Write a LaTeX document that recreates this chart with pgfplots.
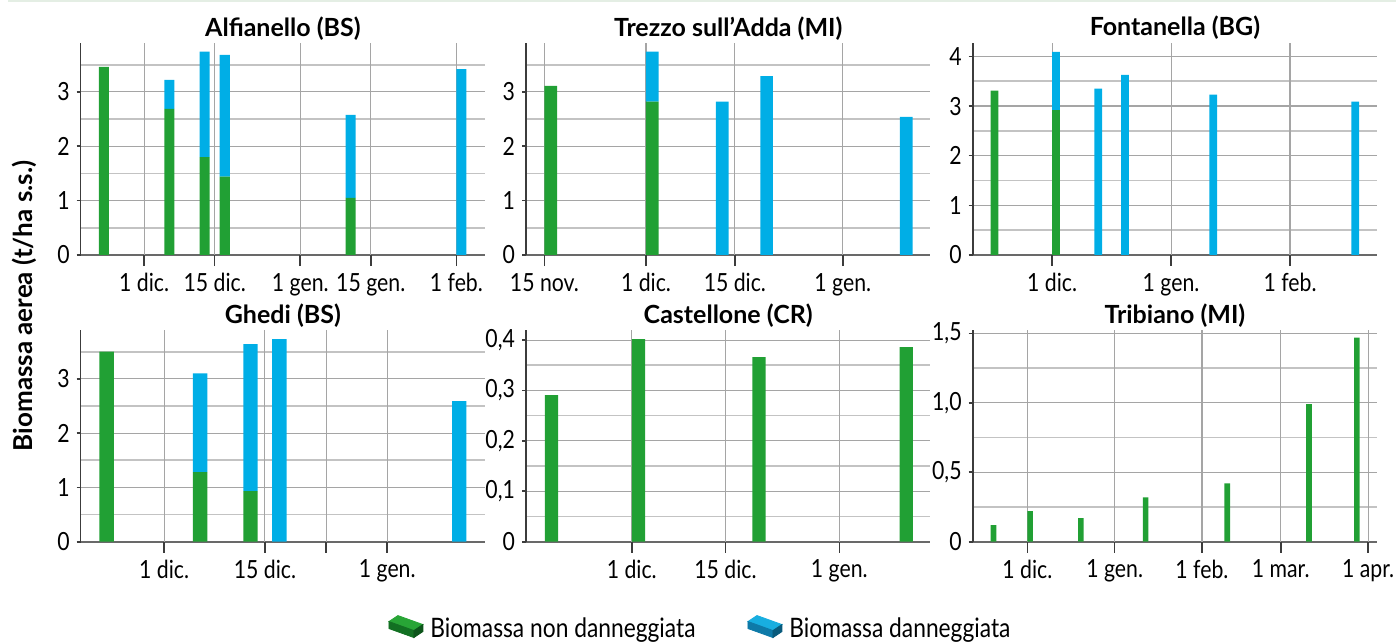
\documentclass[border=0pt]{standalone}
\usepackage{pgfplots}
\pgfplotsset{compat=1.18}
\usepackage{fontspec}
\setmainfont{Lato}
\newfontfamily\condfont{Lato}[FakeStretch=0.85]

\definecolor{gbar}{RGB}{33,160,52}
\definecolor{bbar}{RGB}{0,174,230}
\definecolor{gtop}{RGB}{40,165,54}
\definecolor{gleft}{RGB}{18,112,34}
\definecolor{gright}{RGB}{12,84,26}
\definecolor{btop}{RGB}{24,174,224}
\definecolor{bleft}{RGB}{14,122,168}
\definecolor{bright}{RGB}{8,90,124}
\definecolor{majgrid}{RGB}{165,165,165}
\definecolor{mingrid}{RGB}{195,195,195}
\definecolor{yaxis}{RGB}{60,60,60}
\definecolor{xaxis}{RGB}{105,105,105}
\definecolor{topline}{RGB}{228,238,228}

\newcommand\boxicon[3]{%
  \fill[#1] (0pt,4pt) -- (4.5pt,7pt) -- (17pt,2.5pt) -- (12.5pt,-0.5pt) -- cycle;
  \fill[#2] (0pt,4pt) -- (12.5pt,-0.5pt) -- (12.5pt,-4pt) -- (0pt,0.5pt) -- cycle;
  \fill[#3] (12.5pt,-0.5pt) -- (17pt,2.5pt) -- (17pt,-1pt) -- (12.5pt,-4pt) -- cycle;
  \path (18.5pt,0pt);}

\pgfplotsset{
  panel/.style={
    scale only axis, anchor=south west,
    width=202.2pt, height=106pt,
    axis lines=left, axis line style={-},
    every outer x axis line/.append style={-},
    every outer y axis line/.append style={-},
    x axis line style={draw=xaxis, line width=1pt},
    y axis line style={draw=yaxis, line width=0.8pt},
    ybar stacked, bar width=2, ymin=0, enlargelimits=false,
    xtick=\empty, tick align=outside,
    major tick length=2pt, minor tick length=0pt,
    xminorgrids, ymajorgrids, yminorgrids,
    major grid style={draw=majgrid, line width=0.55pt},
    minor grid style={draw=mingrid, line width=0.8pt},
    extra x tick style={xmajorgrids=true, major tick length=5.5pt, tick align=outside,
      major tick style={draw=yaxis, line width=0.8pt}},
    tick style={draw=yaxis, line width=0.8pt},
    /pgf/number format/assume math mode=true,
    tick label style={font=\condfont\fontsize{12.5}{14}\selectfont},
    title style={font=\bfseries\fontsize{12.5}{14}\selectfont, at={(0.5,1)}, anchor=base, yshift=-2.5pt},
  },
  gplot/.style={fill=gbar, draw=none},
  bplot/.style={fill=bbar, draw=none},
}

\begin{document}
\begin{tikzpicture}
\path[use as bounding box] (0pt,0pt) rectangle (698pt,321.5pt);
\draw[draw=topline, line width=1pt] (4pt,321pt) -- (698pt,321pt);

% Alfianello
\begin{axis}[panel, at={(40.35pt,194pt)},
  title={Alfianello (BS)}, xmin=17.4, xmax=97.7, ymax=3.9,
  ytick={0,1,2,3}, minor ytick={0.5,1.5,2.5,3.5},
  extra x ticks={30,44,61,75,92}, extra x tick labels={1 dic.,15 dic.,1 gen.,15 gen.,1 feb.},
  minor xtick={23,37,52.5,68,83.5,97.7}]
\addplot[gplot] coordinates {(22,3.46) (35,2.69) (42,1.80) (46,1.44) (71,1.05) (93,0)};
\addplot[bplot] coordinates {(22,0) (35,0.53) (42,1.94) (46,2.24) (71,1.53) (93,3.42)};
\end{axis}

% Trezzo
\begin{axis}[panel, at={(263pt,194pt)},
  title={Trezzo sull’Adda (MI)}, xmin=11.1, xmax=74.8, ymax=3.9,
  ytick={0,1,2,3}, minor ytick={0.5,1.5,2.5,3.5},
  extra x ticks={14,30,44,61}, extra x tick labels={15 nov.,1 dic.,15 dic.,1 gen.},
  minor xtick={22,37,52.5,69,74.8}]
\addplot[gplot] coordinates {(15,3.11) (31,2.82) (42,0) (49,0) (71,0)};
\addplot[bplot] coordinates {(15,0) (31,0.92) (42,2.82) (49,3.29) (71,2.54)};
\end{axis}

% Fontanella
\begin{axis}[panel, at={(486.35pt,194pt)},
  title={Fontanella (BG)}, xmin=9.3, xmax=114.7, ymax=4.27,
  ytick={0,1,2,3,4}, minor ytick={0.5,1.5,2.5,3.5},
  extra x ticks={30,61,92}, extra x tick labels={1 dic.,1 gen.,1 feb.},
  minor xtick={14.5,45.5,76.5,107.5,114.7}]
\addplot[gplot] coordinates {(15,3.31) (31,2.92) (42,0) (49,0) (72,0) (109,0)};
\addplot[bplot] coordinates {(15,0) (31,1.17) (42,3.35) (49,3.63) (72,3.23) (109,3.09)};
\end{axis}

% Ghedi
\begin{axis}[panel, at={(40.35pt,50.65pt)}, height=105.85pt,
  title={Ghedi (BS)}, xmin=18.4, xmax=74.6, ymax=3.9,
  ytick={0,1,2,3}, minor ytick={0.5,1.5,2.5,3.5},
  extra x ticks={30,44,52.5,61}, extra x tick labels={1 dic.,15 dic.,,1 gen.},
  minor xtick={22.8,37,68,74.6}]
\addplot[gplot] coordinates {(22,3.50) (35,1.28) (42,0.93) (46,0) (71,0)};
\addplot[bplot] coordinates {(22,0) (35,1.82) (42,2.71) (46,3.73) (71,2.59)};
\end{axis}

% Castellone
\begin{axis}[panel, at={(263pt,50.65pt)}, height=105.85pt,
  title={Castellone (CR)}, xmin=14.2, xmax=74.6, ymax=0.42,
  ytick={0,0.1,0.2,0.3,0.4}, yticklabels={0,{0,1},{0,2},{0,3},{0,4}},
  minor ytick={0.05,0.15,0.25,0.35},
  extra x ticks={30,44,61}, extra x tick labels={1 dic.,15 dic.,1 gen.},
  minor xtick={16,23,37,52.5,68,74.6},
  legend style={draw=none, fill=none, inner sep=0pt, at={(-0.341,-0.415)}, anchor=west,
    legend columns=2, font=\condfont\fontsize{13.4}{15}\selectfont,
    /tikz/every even column/.append style={column sep=24pt}},
  legend cell align=left]
\addlegendimage{legend image code/.code={\boxicon{gtop}{gleft}{gright}}}
\addlegendentry{Biomassa non danneggiata}
\addlegendimage{legend image code/.code={\boxicon{btop}{bleft}{bright}}}
\addlegendentry{Biomassa danneggiata}
\addplot[gplot] coordinates {(18,0.291) (31,0.402) (49,0.366) (71,0.386)};
\end{axis}

% Tribiano
\begin{axis}[panel, at={(486.35pt,50.65pt)}, height=105.85pt,
  title={Tribiano (MI)}, xmin=10.6, xmax=154.2, ymax=1.524,
  ytick={0,0.5,1,1.5}, yticklabels={0,{0,5},{1,0},{1,5}},
  minor ytick={0.25,0.75,1.25},
  extra x ticks={30,61,92,120,151}, extra x tick labels={1 dic.,1 gen.,1 feb.,1 mar.,1 apr.},
  minor xtick={14.5,45.5,76.5,106,135.5,154.2}]
\addplot[gplot] coordinates {(18,0.12) (31,0.22) (49,0.17) (72,0.32) (101,0.42) (130,0.99) (147,1.47)};
\end{axis}

\node[rotate=90, font=\bfseries\fontsize{13}{15}\selectfont] at (12pt,168.5pt) {Biomassa aerea (t/ha s.s.)};
\end{tikzpicture}
\end{document}
